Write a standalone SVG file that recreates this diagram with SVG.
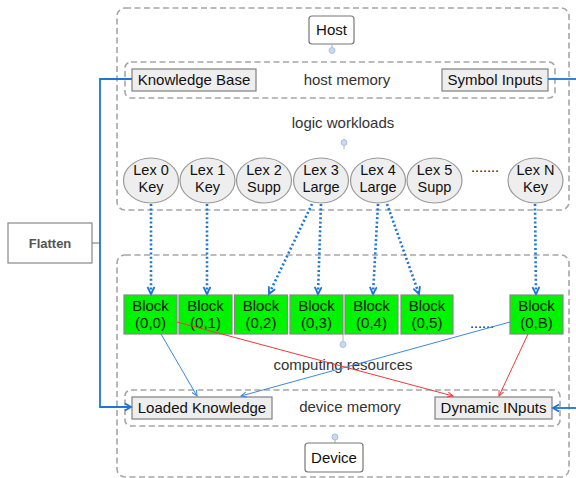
<svg xmlns="http://www.w3.org/2000/svg" width="576" height="478" viewBox="0 0 576 478">
<style>
  text { font-family: "Liberation Sans", Arial, sans-serif; fill: #111; }
  .container { fill: none; stroke: #a6a6a6; stroke-width: 1.6; stroke-dasharray: 6 3.5; }
  .mem { fill: #eeeeee; stroke: #808080; stroke-width: 1.2; }
  .round { fill: #ffffff; stroke: #777; stroke-width: 1.2; }
  .lex { fill: #eeeeee; stroke: #999; stroke-width: 1.2; }
  .block { fill: #00f400; stroke: #888; stroke-width: 1.2; }
  .t15 { font-size: 15px; text-anchor: middle; }
  .t14 { font-size: 14.5px; text-anchor: middle; }
  .label { font-size: 15px; text-anchor: middle; fill: #333; }
  .dotted { fill: none; stroke: #1f74d6; stroke-width: 2.6; stroke-dasharray: 2 2.4; marker-end: url(#vbig); }
  .thinb { fill: none; stroke: #3a88e0; stroke-width: 1; marker-end: url(#vsb); }
  .thinr { fill: none; stroke: #f03a3a; stroke-width: 1; marker-end: url(#vsr); }
  .link { fill: none; stroke: #1f74d6; stroke-width: 1.8; }
  .icon { fill: #c9d9f2; stroke: #9ab4e0; stroke-width: 0.8; }
  .stem { stroke: #b0b0b0; stroke-width: 1; }
</style>
<defs>
  <marker id="vbig" markerUnits="userSpaceOnUse" markerWidth="10" markerHeight="10" refX="8" refY="4" orient="auto">
    <path d="M1,0.5 L8,4 L1,7.5" fill="none" stroke="#1f74d6" stroke-width="1.8"/>
  </marker>
  <marker id="vsb" markerUnits="userSpaceOnUse" markerWidth="8" markerHeight="8" refX="6" refY="3" orient="auto">
    <path d="M0.5,0.5 L6,3 L0.5,5.5" fill="none" stroke="#3a88e0" stroke-width="1"/>
  </marker>
  <marker id="vsr" markerUnits="userSpaceOnUse" markerWidth="8" markerHeight="8" refX="6" refY="3" orient="auto">
    <path d="M0.5,0.5 L6,3 L0.5,5.5" fill="none" stroke="#f03a3a" stroke-width="1"/>
  </marker>
  <marker id="vlink" markerUnits="userSpaceOnUse" markerWidth="10" markerHeight="10" refX="7" refY="4" orient="auto">
    <path d="M1,0.5 L7,4 L1,7.5" fill="none" stroke="#1f74d6" stroke-width="1.8"/>
  </marker>
</defs>

<!-- containers -->
<g id="host-container">
  <rect class="container" x="117" y="8" width="452" height="202" rx="8"/>
</g>
<g id="device-container">
  <rect class="container" x="117" y="255" width="452" height="222" rx="8"/>
</g>
<g id="host-memory">
  <rect class="container" x="125" y="62" width="430" height="36" rx="6"/>
  <text class="label" x="347" y="85">host memory</text>
</g>
<g id="device-memory">
  <rect class="container" x="125" y="390" width="435" height="36" rx="6"/>
  <text class="label" x="350" y="412">device memory</text>
</g>

<g id="host">
  <rect class="round" x="309" y="16" width="45" height="28" rx="3"/>
  <text class="t15" x="331.5" y="35">Host</text>
  <line class="stem" x1="332" y1="44" x2="332" y2="48"/>
  <circle class="icon" cx="332" cy="50.5" r="3"/>
</g>

<g id="logic-workloads">
  <text class="label" x="343" y="128">logic workloads</text>
  <circle class="icon" cx="344" cy="142.5" r="3"/>
  <line class="stem" x1="344" y1="145.5" x2="344" y2="149"/>
</g>

<g id="computing-resources">
  <line class="stem" x1="343" y1="334" x2="343" y2="341"/>
  <circle class="icon" cx="343" cy="344.5" r="3"/>
  <text class="label" x="343" y="370">computing resources</text>
</g>

<g id="device">
  <circle class="icon" cx="335" cy="437" r="3"/>
  <line class="stem" x1="335" y1="440" x2="335" y2="443"/>
  <rect class="round" x="305" y="443" width="58" height="29" rx="3"/>
  <text class="t15" x="334" y="463">Device</text>
</g>

<g id="knowledge-base">
  <rect class="mem" x="132" y="69" width="124" height="22"/>
  <text class="t15" x="194" y="85">Knowledge Base</text>
</g>
<g id="symbol-inputs">
  <rect class="mem" x="442" y="69" width="106" height="22"/>
  <text class="t15" x="495" y="85">Symbol Inputs</text>
</g>
<g id="loaded-knowledge">
  <rect class="mem" x="132" y="397" width="140" height="22"/>
  <text class="t15" x="202" y="413">Loaded Knowledge</text>
</g>
<g id="dynamic-inputs">
  <rect class="mem" x="435" y="397" width="117" height="22"/>
  <text class="t15" x="493.5" y="413">Dynamic INputs</text>
</g>

<g id="flatten">
  <rect x="8" y="223" width="84" height="40" fill="#fff" stroke="#888" stroke-width="1.2"/>
  <text x="50" y="248" font-size="13" font-weight="bold" text-anchor="middle" style="fill:#555">Flatten</text>
</g>

<!-- lex nodes -->
<g id="lex0"><ellipse class="lex" cx="151" cy="180.5" rx="27.5" ry="22.5"/><text class="t14" x="151" y="175">Lex 0</text><text class="t14" x="151" y="192">Key</text></g>
<g id="lex1"><ellipse class="lex" cx="207.5" cy="180.5" rx="27.5" ry="22.5"/><text class="t14" x="207.5" y="175">Lex 1</text><text class="t14" x="207.5" y="192">Key</text></g>
<g id="lex2"><ellipse class="lex" cx="264" cy="180.5" rx="27.5" ry="22.5"/><text class="t14" x="264" y="175">Lex 2</text><text class="t14" x="264" y="192">Supp</text></g>
<g id="lex3"><ellipse class="lex" cx="321" cy="180.5" rx="27.5" ry="22.5"/><text class="t14" x="321" y="175">Lex 3</text><text class="t14" x="321" y="192">Large</text></g>
<g id="lex4"><ellipse class="lex" cx="378" cy="180.5" rx="27.5" ry="22.5"/><text class="t14" x="378" y="175">Lex 4</text><text class="t14" x="378" y="192">Large</text></g>
<g id="lex5"><ellipse class="lex" cx="434.5" cy="180.5" rx="27.5" ry="22.5"/><text class="t14" x="434.5" y="175">Lex 5</text><text class="t14" x="434.5" y="192">Supp</text></g>
<g id="lex-ellipsis"><text class="t14" x="485" y="172">.......</text></g>
<g id="lexN"><ellipse class="lex" cx="535.5" cy="180.5" rx="27.5" ry="22.5"/><text class="t14" x="535.5" y="175">Lex N</text><text class="t14" x="535.5" y="192">Key</text></g>

<!-- blocks -->
<g id="block00"><rect class="block" x="124" y="295" width="53" height="39"/><text class="t15" x="150.5" y="311">Block</text><text class="t15" x="150.5" y="328">(0,0)</text></g>
<g id="block01"><rect class="block" x="179" y="295" width="53" height="39"/><text class="t15" x="205.5" y="311">Block</text><text class="t15" x="205.5" y="328">(0,1)</text></g>
<g id="block02"><rect class="block" x="234.5" y="295" width="53" height="39"/><text class="t15" x="261" y="311">Block</text><text class="t15" x="261" y="328">(0,2)</text></g>
<g id="block03"><rect class="block" x="290" y="295" width="53" height="39"/><text class="t15" x="316.5" y="311">Block</text><text class="t15" x="316.5" y="328">(0,3)</text></g>
<g id="block04"><rect class="block" x="345" y="295" width="53" height="39"/><text class="t15" x="371.5" y="311">Block</text><text class="t15" x="371.5" y="328">(0,4)</text></g>
<g id="block05"><rect class="block" x="401" y="295" width="52" height="39"/><text class="t15" x="427" y="311">Block</text><text class="t15" x="427" y="328">(0,5)</text></g>
<g id="block-ellipsis"><text class="t14" x="482" y="328">......</text></g>
<g id="block0B"><rect class="block" x="510" y="295" width="53" height="39"/><text class="t15" x="536.5" y="311">Block</text><text class="t15" x="536.5" y="328">(0,B)</text></g>

<!-- connectors -->
<g id="connectors">
  <line class="dotted" x1="151" y1="204" x2="151" y2="294"/>
  <line class="dotted" x1="207" y1="204" x2="207" y2="294"/>
  <line class="dotted" x1="312" y1="204" x2="269" y2="294"/>
  <line class="dotted" x1="321" y1="204" x2="318" y2="294"/>
  <line class="dotted" x1="378" y1="204" x2="373" y2="294"/>
  <line class="dotted" x1="387" y1="204" x2="419" y2="294"/>
  <line class="dotted" x1="535" y1="204" x2="536" y2="294"/>

  <line class="thinb" x1="161" y1="334" x2="197" y2="396"/>
  <line class="thinr" x1="177" y1="322" x2="453" y2="396"/>
  <line class="thinb" x1="510" y1="322" x2="241" y2="396"/>
  <line class="thinr" x1="528" y1="334" x2="499" y2="396"/>

  <line x1="92" y1="243" x2="100" y2="243" stroke="#888" stroke-width="1.2"/>
  <polyline class="link" points="132,79 100,79 100,407 131,407" marker-end="url(#vlink)"/>
  <line class="link" x1="548" y1="79" x2="576" y2="79"/>
  <line class="link" x1="576" y1="408" x2="553" y2="408" marker-end="url(#vlink)"/>
</g>
</svg>
